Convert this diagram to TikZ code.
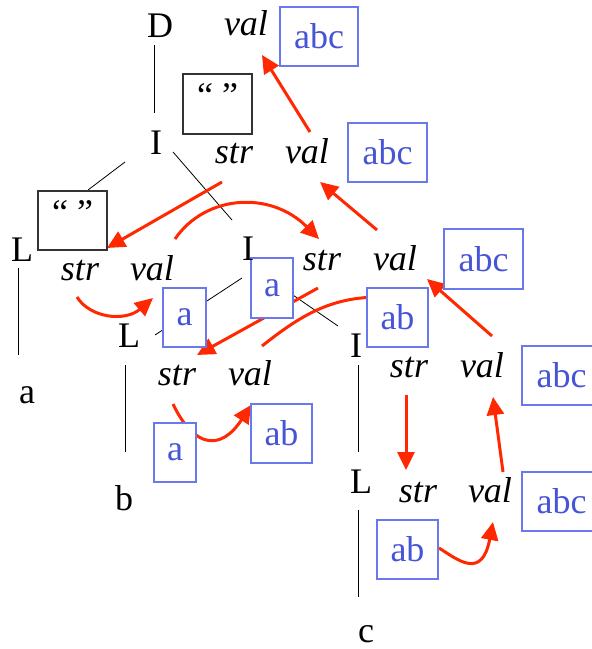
\documentclass[tikz,border=0pt]{standalone}
\usepackage{fontspec}
\setmainfont{LiberationSerif}[Extension=.ttf, UprightFont=*-Regular, ItalicFont=*-Italic, BoldFont=*-Bold]
\newfontfamily\timesf{LiberationSerif}[Extension=.ttf, UprightFont=*-Regular, ItalicFont=*-Italic, BoldFont=*-Bold]
\usetikzlibrary{arrows.meta}
\definecolor{flowred}{RGB}{255,40,0}
\definecolor{txtblue}{RGB}{70,84,214}
\definecolor{boxblue}{RGB}{105,120,235}
\newcommand\bigf{\timesf\fontsize{36}{43}\selectfont}
\begin{document}
\begin{tikzpicture}[x=1pt,y=-1pt,
  tree/.style={line width=0.8pt, draw=black},
  flowline/.style={line width=3pt, draw=flowred},
  flow/.style={flowline, -{Triangle[length=18pt,width=17pt]}},
  valbox/.style={draw=boxblue, line width=1.2pt, fill=white, text=txtblue, font=\bigf, minimum height=59pt, inner sep=0pt},
  qbox/.style={draw=black!80, line width=1.2pt, fill=white, font=\bigf, minimum width=69pt, minimum height=60pt, inner sep=0pt, text height=0.7em, text depth=0pt},
  sym/.style={anchor=base, inner sep=0pt, font=\bigf},
  attr/.style={anchor=base, inner sep=0pt, font=\bigf\itshape}]
\useasboundingbox (0,0) rectangle (592,649);

% ---- tree connector end points
\coordinate (tD) at (154,45);   \coordinate (tI1u) at (154,113);
\coordinate (tI1a) at (125,162); \coordinate (tL1a) at (88,190);
\coordinate (tI1b) at (173,152); \coordinate (tI2a) at (232,220);
\coordinate (tI2b) at (242,278); \coordinate (tL2a) at (155,335);
\coordinate (tI2c) at (258,271); \coordinate (tI3a) at (338,326);
\coordinate (tL1b) at (18,268);  \coordinate (ta) at (18,355);
\coordinate (tL2b) at (125,365); \coordinate (tb) at (125,452);
\coordinate (tI3b) at (358,365); \coordinate (tL3a) at (358,452);
\coordinate (tL3b) at (358,510); \coordinate (tc) at (358,597);

\draw[tree] (tD) -- (tI1u);
\draw[tree] (tI1a) -- (tL1a);
\draw[tree] (tI1b) -- (tI2a);
\draw[tree] (tI2b) -- (tL2a);
\draw[tree] (tI2c) -- (tI3a);
\draw[tree] (tL1b) -- (ta);
\draw[tree] (tL2b) -- (tb);
\draw[tree] (tI3b) -- (tL3a);
\draw[tree] (tL3b) -- (tc);

% ---- flow arrows end points
\coordinate (f1s) at (310,132); \coordinate (f1e) at (262,55);
\coordinate (f2s) at (377,230); \coordinate (f2e) at (320,182);
\coordinate (f3s) at (222,182); \coordinate (f3e) at (107,248);
\coordinate (f4s) at (175,239); \coordinate (f4e) at (319,239);
\coordinate (f5s) at (77,297);  \coordinate (f5e) at (153,298);
\coordinate (f6s) at (318,288); \coordinate (f6e) at (197,355);
\coordinate (f7s) at (262,346); \coordinate (f7e) at (380,297);
\coordinate (f8s) at (173,404); \coordinate (f8e) at (251,405);
\coordinate (f9s) at (406,395); \coordinate (f9e) at (406,470);
\coordinate (f10s) at (503,472); \coordinate (f10e) at (493,397);
\coordinate (f11s) at (492,336); \coordinate (f11e) at (427,279);
\coordinate (f12s) at (439,548); \coordinate (f12e) at (493,522);

\draw[flow] (f1s) -- (f1e);
\draw[flow] (f2s) -- (f2e);
\draw[flow] (f3s) -- (f3e);
\draw[flow] (f4s) .. controls (205,195) and (270,190) .. (f4e);
\draw[flow] (f5s) .. controls (90,318) and (125,322) .. (f5e);
\draw[flow] (f6s) -- (f6e);
\draw[flowline] (f7s) .. controls (300,316) and (330,297) .. (f7e);
\draw[flow] (f8s) .. controls (195,450) and (222,450) .. (f8e);
\draw[flow] (f9s) -- (f9e);
\draw[flow] (f10s) -- (f10e);
\draw[flow] (f11s) -- (f11e);
\draw[flow] (f12s) .. controls (458,560) and (482,580) .. (f12e);

% ---- value boxes
\node[valbox, minimum width=78pt] (bD)  at (319,36.5)  {abc};
\node[valbox, minimum width=79pt] (bI1) at (387.5,152.5) {abc};
\node[valbox, minimum width=79pt, minimum height=60pt] (bI2) at (483.5,259) {abc};
\node[valbox, minimum width=79pt] (bI3) at (561.5,375.5) {abc};
\node[valbox, minimum width=79pt] (bL3) at (561.5,501.5) {abc};
\node[valbox, minimum width=61pt] (bm)  at (397.5,317.5) {ab};
\node[valbox, minimum width=61pt] (bl)  at (407.5,549.5) {ab};
\node[valbox, minimum width=43pt] (ba1) at (184.5,317.5) {a};
\node[valbox, minimum width=42pt, minimum height=60pt] (ba2) at (272,288) {a};
\node[valbox, minimum width=42pt] (ba3) at (175,452.5) {a};
\node[valbox, minimum width=61pt] (bb)  at (281.5,433.5) {ab};
\node[qbox] (q1) at (217.5,104) {“ ”};
\node[qbox, minimum height=59pt] (q2) at (72.5,220.5) {“ ”};

% ---- attribute labels
\node[attr] (vD)  at (246,35)  {val};
\node[attr] (sI1) at (234,163) {str};
\node[attr] (vI1) at (307,163) {val};
\node[attr] (sL1) at (80,280)  {str};
\node[attr] (vL1) at (152,280) {val};
\node[attr] (sI2) at (322,270) {str};
\node[attr] (vI2) at (395,270) {val};
\node[attr] (sL2) at (177,385) {str};
\node[attr] (vL2) at (250,385) {val};
\node[attr] (sI3) at (409,377) {str};
\node[attr] (vI3) at (482,377) {val};
\node[attr] (sL3) at (418,502) {str};
\node[attr] (vL3) at (490,502) {val};

% ---- tree symbols
\node[sym] (D)  at (160,37)  {D};
\node[sym] (I1) at (156,154) {I};
\node[sym] (L1) at (22,261)  {L};
\node[sym] (la) at (27,403)  {a};
\node[sym] (I2) at (248,260) {I};
\node[sym] (L2) at (129,347) {L};
\node[sym] (lb) at (124,510) {b};
\node[sym] (I3) at (356,357) {I};
\node[sym] (L3) at (361,493) {L};
\node[sym] (lc) at (366,642) {c};
\end{tikzpicture}
\end{document}
